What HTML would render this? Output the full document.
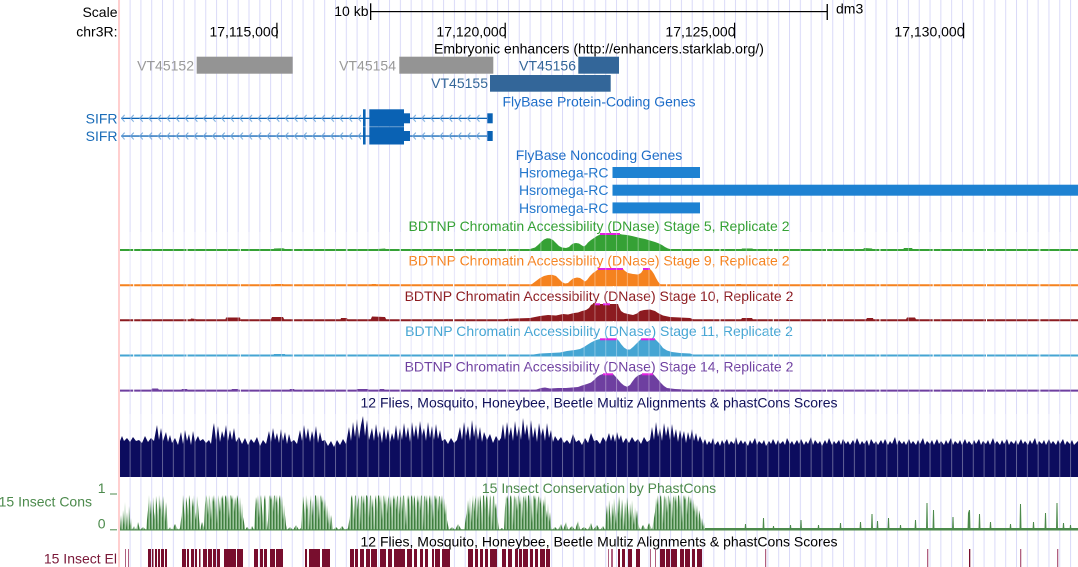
<!DOCTYPE html>
<html><head><meta charset="utf-8"><style>
html,body{margin:0;padding:0;background:#fff;overflow:hidden;width:1078px;height:567px}
svg{display:block}
text{font-family:"Liberation Sans",Arial,sans-serif;font-size:14px}
</style></head><body>
<svg width="1078" height="567" viewBox="0 0 1078 567" xmlns="http://www.w3.org/2000/svg">
<defs>
<pattern id="grid" patternUnits="userSpaceOnUse" x="129.6" y="0" width="10.81" height="567"><rect x="0" y="0" width="1" height="567" fill="#dadaf8"/></pattern>
<pattern id="gridov" patternUnits="userSpaceOnUse" x="129.6" y="0" width="10.81" height="567"><rect x="0" y="0" width="1" height="567" fill="#ffffff" fill-opacity="0.35"/></pattern>
<pattern id="chev" patternUnits="userSpaceOnUse" x="121" y="114.3" width="9.1" height="17.7"><path d="M3.6,0.6 L0.6,4 L3.6,7.4" fill="none" stroke="#6fa6dc" stroke-width="1"/></pattern>
<pattern id="gstr" patternUnits="userSpaceOnUse" x="120" y="0" width="3" height="10"><rect x="0" y="0" width="1.6" height="10" fill="#3f7f3f"/><rect x="1.6" y="0" width="1.4" height="10" fill="#9fc69f"/></pattern>
</defs>
<rect x="0" y="0" width="1078" height="567" fill="#fff"/>
<rect x="120" y="0" width="958" height="567" fill="url(#grid)"/>
<rect x="118" y="0" width="2" height="567" fill="#ffcfcf"/>

<!-- header -->
<text x="117.5" y="17" text-anchor="end">Scale</text>
<text x="117.5" y="36.5" text-anchor="end">chr3R:</text>
<text x="368.5" y="15.8" text-anchor="end">10 kb</text>
<rect x="370" y="3.3" width="1.3" height="16.7" fill="#000"/>
<rect x="371" y="11" width="456" height="1.2" fill="#000"/>
<rect x="826.6" y="4" width="1.3" height="16" fill="#000"/>
<text x="836" y="13.5">dm3</text>
<text x="278.5" y="36.5" text-anchor="end">17,115,000</text><rect x="276.3" y="22.7" width="1.2" height="15.6" fill="#000"/>
<text x="506.5" y="36.5" text-anchor="end">17,120,000</text><rect x="504.6" y="22.7" width="1.2" height="15.6" fill="#000"/>
<text x="735.5" y="36.5" text-anchor="end">17,125,000</text><rect x="734" y="22.7" width="1.2" height="15.6" fill="#000"/>
<text x="964.5" y="36.5" text-anchor="end">17,130,000</text><rect x="963" y="22.7" width="1.2" height="15.6" fill="#000"/>

<!-- enhancers -->
<text x="599" y="53.4" text-anchor="middle">Embryonic enhancers (http://enhancers.starklab.org/)</text>
<text x="194" y="70.5" text-anchor="end" fill="#999">VT45152</text>
<rect x="196.7" y="56.7" width="96" height="17" fill="#949494"/>
<text x="396" y="70.5" text-anchor="end" fill="#999">VT45154</text>
<rect x="399.3" y="56.7" width="94" height="17" fill="#949494"/>
<text x="576" y="70.5" text-anchor="end" fill="#336699">VT45156</text>
<rect x="578.3" y="56.7" width="40.7" height="17" fill="#336699"/>
<text x="488" y="88" text-anchor="end" fill="#336699">VT45155</text>
<rect x="490" y="75" width="120.7" height="16.7" fill="#336699"/>

<!-- protein coding genes -->
<text x="599" y="106.5" text-anchor="middle" fill="#1e6ec8">FlyBase Protein-Coding Genes</text>
<text x="117.5" y="123.5" text-anchor="end" fill="#1a6cb8">SIFR</text>
<text x="117.5" y="141.2" text-anchor="end" fill="#1a6cb8">SIFR</text>
<g fill="#0a62b4">
<rect x="121" y="117.7" width="366" height="1.3"/>
<rect x="363" y="109.3" width="2.6" height="17.4"/>
<rect x="369.3" y="109.3" width="34.7" height="17.4"/>
<rect x="404" y="113.3" width="6" height="10"/>
<rect x="487.3" y="113.3" width="5.4" height="10"/>
<rect x="121" y="135.4" width="366" height="1.3"/>
<rect x="363" y="127.1" width="2.6" height="17.4"/>
<rect x="369.3" y="127.1" width="34.7" height="17.4"/>
<rect x="404" y="131" width="6" height="10"/>
<rect x="487.3" y="131" width="5.4" height="10"/>
</g>
<rect x="121" y="114.3" width="240" height="26" fill="url(#chev)"/>
<rect x="411" y="114.3" width="74" height="26" fill="url(#chev)"/>

<!-- noncoding -->
<text x="599" y="160" text-anchor="middle" fill="#1e6ec8">FlyBase Noncoding Genes</text>
<text x="608.5" y="177.4" text-anchor="end" fill="#2277cc">Hsromega-RC</text>
<text x="608.5" y="195.1" text-anchor="end" fill="#2277cc">Hsromega-RC</text>
<text x="608.5" y="212.8" text-anchor="end" fill="#2277cc">Hsromega-RC</text>
<g fill="#1e82d2">
<rect x="612.5" y="167" width="87.5" height="11"/>
<rect x="612.5" y="184.7" width="465.5" height="11"/>
<rect x="612.5" y="202.4" width="87.5" height="11"/>
</g>

<!-- DNase tracks -->
<text x="599" y="231" text-anchor="middle" fill="#35a135">BDTNP Chromatin Accessibility (DNase) Stage 5, Replicate 2</text>
<g fill="#35a135">
<polygon points="525,251 525,249.5 530,249 535,247.5 538,245 541,242 544,239.5 547,238.3 550,238.5 553,240 556,243 559,246 562,247.5 566,248 569,247 571,245 573,243.5 576,243 579,243.5 582,245.5 584,246.5 586,245 588,242.5 591,240 594,238 597,236 600,234.5 600,234 620,234 622,234.5 627,235 632,236 636,237 640,238 645,239 650,240.5 655,242 659,243.5 662,245 665,247 668,248.5 672,249.5 680,249.5 690,250 690,251"/>
<polygon points="273,251 274,248.5 283,248.3 285,249 288,251"/>
<polygon points="375,251 377,249 385,248.5 388,251"/>
<polygon points="740,251 742,248.5 752,248.5 755,249.5 758,251"/>
<polygon points="862,251 864,248 872,248.5 874,251"/>
<polygon points="902,251 904,248 912,248 914,251"/>
</g>
<line x1="120" y1="250" x2="1078" y2="250" stroke="#35a135" stroke-width="2" stroke-dasharray="52.3 1" stroke-dashoffset="39.1"/>
<rect x="600" y="233" width="20" height="2" fill="#e020e0"/>

<text x="599" y="265.7" text-anchor="middle" fill="#f5821f">BDTNP Chromatin Accessibility (DNase) Stage 9, Replicate 2</text>
<g fill="#f5821f">
<polygon points="530,286 532,284 536,281 540,278 544,276 548,275 552,274.8 556,276 559,279 562,282 565,283.5 568,283 570,281 573,278.5 577,277.5 580,278 583,280 585,281.5 587,280 590,276 593,273 596,271 598,269.3 598,269 623,269 625,271 628,273 633,274 638,274.5 641,273 643,270 643,269 650,269 652,271 654,274 656,278 658,281.5 660,284 663,285 666,286"/>
<polygon points="273,286 275,284 283,284 285,286"/>
<polygon points="370,286 372,284 376,284 377,286"/>
<polygon points="736,286 737,284 741,284 742,286"/>
</g>
<line x1="120" y1="285.2" x2="1078" y2="285.2" stroke="#f5821f" stroke-width="2" stroke-dasharray="52.3 1" stroke-dashoffset="39.1"/>
<rect x="598" y="268" width="25" height="2" fill="#e020e0"/>
<rect x="643" y="268" width="7" height="2" fill="#e020e0"/>

<text x="599" y="300.8" text-anchor="middle" fill="#8c1b20">BDTNP Chromatin Accessibility (DNase) Stage 10, Replicate 2</text>
<g fill="#8c1b20">
<polygon points="500,321 505,319 515,318.5 530,318 540,316 548,315 556,315.5 563,314 568,314.5 574,313 578,312.5 582,311 586,310 589,308 591,305 593,304 618,304 619,307 621,311 624,313 628,314 633,315 637,313.5 640,311 644,310 650,309.5 655,311 658,313 663,315.5 670,317 680,317.5 690,318 695,320 697,321"/>
<polygon points="190,321 191,318.5 196,319 197,321"/>
<polygon points="225,321 226,317.5 240,317.5 241,321"/>
<polygon points="270,321 272,317 283,317 285,321"/>
<polygon points="340,321 341,318 347,318 348,321"/>
<polygon points="370,321 372,316.5 385,317 387,321"/>
<polygon points="740,321 742,318 752,318 754,321"/>
<polygon points="865,321 867,318 873,318 874,321"/>
<polygon points="905,321 907,317.5 915,317.5 917,321"/>
</g>
<line x1="120" y1="320.3" x2="1078" y2="320.3" stroke="#8c1b20" stroke-width="2" stroke-dasharray="52.3 1" stroke-dashoffset="39.1"/>
<rect x="595" y="303.3" width="5" height="2" fill="#e020e0"/>
<rect x="603" y="303.3" width="7" height="2" fill="#e020e0"/>

<text x="599" y="336.2" text-anchor="middle" fill="#45a5d3">BDTNP Chromatin Accessibility (DNase) Stage 11, Replicate 2</text>
<g fill="#45a5d3">
<polygon points="520,356.5 530,355 540,353.5 550,353 560,352.5 567,351 575,350 580,349 584,347 587,345 591,342.5 595,340.5 598,339.5 600,339 617,339 619,341 621,344 624,347.5 627,349.5 630,349.5 633,347 636,344 639,341 641,339 655,339 657,341 660,344 663,348 667,350.5 672,352 680,353 690,353.5 695,355 697,356.5"/>
<polygon points="272,356.5 274,354 285,354 286,356.5"/>
</g>
<line x1="120" y1="355.5" x2="1078" y2="355.5" stroke="#45a5d3" stroke-width="2" stroke-dasharray="52.3 1" stroke-dashoffset="39.1"/>
<rect x="600" y="338.3" width="17" height="2" fill="#e020e0"/>
<rect x="641" y="338.3" width="14" height="2" fill="#e020e0"/>

<text x="599" y="371.3" text-anchor="middle" fill="#6e3fa0">BDTNP Chromatin Accessibility (DNase) Stage 14, Replicate 2</text>
<g fill="#6e3fa0">
<polygon points="525,391.5 535,390 541,388 545,387.5 550,388.5 558,388 566,388 572,387.5 578,387 582,385.5 587,384 591,382.5 594,380 597,377 600,375 603,374 613,374 615,376 618,379.5 621,383 624,385.5 627,386.7 630,385 632,382 635,378 638,375.5 642,374 653,374 655,376 658,379.5 661,383 664,386 667,388 675,389 685,389.5 693,390 695,391.5"/>
<polygon points="150,391.5 152,388.5 158,388.5 160,391.5"/>
<polygon points="180,391.5 182,389 187,389 189,391.5"/>
<polygon points="230,391.5 232,389 238,389 240,391.5"/>
<polygon points="288,391.5 290,389 294,389 296,391.5"/>
<polygon points="355,391.5 357,389 368,389 370,391.5"/>
<polygon points="378,391.5 380,389 384,389 386,391.5"/>
</g>
<line x1="120" y1="390.6" x2="1078" y2="390.6" stroke="#6e3fa0" stroke-width="2" stroke-dasharray="52.3 1" stroke-dashoffset="39.1"/>
<rect x="603" y="373.3" width="10" height="2" fill="#e020e0"/>
<rect x="642" y="373.3" width="11" height="2" fill="#e020e0"/>

<!-- Multiz -->
<text x="599" y="407.3" text-anchor="middle" fill="#10105a">12 Flies, Mosquito, Honeybee, Beetle Multiz Alignments &amp; phastCons Scores</text>
<path fill="#0c0c5e" d="M120,477 L120,441 122,436 124,441 127,438 130,442 133,437 136,441 139,440 142,443 145,436 148,442 151,438 154,441 156,430 157,425 159,440 161,428 163,441 166,432 168,442 170,435 172,443 175,438 178,445 181,432 183,444 185,430 187,441 189,434 191,445 193,431 195,442 198,436 200,441 203,439 206,443 209,440 211,444 213,428 214,423 216,440 218,426 220,442 222,431 224,438 226,425 228,441 230,430 232,440 234,428 236,442 239,437 242,444 245,438 248,445 251,439 254,443 257,437 260,446 263,440 266,444 269,431 271,442 273,428 275,440 277,433 279,443 281,429 283,441 285,432 287,444 289,434 291,442 294,440 297,444 300,430 302,441 304,425 306,439 308,428 310,442 312,431 314,440 316,426 318,443 320,432 322,441 325,440 328,446 331,441 334,447 337,440 340,445 343,439 346,444 349,427 351,441 353,422 355,437 357,419 359,439 361,425 363,416 365,436 367,420 369,440 372,428 374,441 376,424 378,438 380,431 382,443 384,426 386,440 388,429 390,442 392,433 394,440 396,425 398,441 400,428 402,440 404,423 406,438 408,427 410,442 412,422 414,437 416,425 418,440 420,421 422,436 424,428 426,441 428,422 430,438 432,426 434,440 436,424 438,439 440,430 442,441 445,439 448,444 451,438 454,443 457,440 460,427 462,440 464,422 466,436 468,426 470,441 472,420 474,437 476,424 478,440 480,427 482,442 484,432 487,440 490,434 493,443 496,436 499,441 501,438 503,424 505,440 507,422 509,436 511,427 513,441 515,421 517,437 519,426 521,440 523,418 525,435 527,424 529,441 531,420 533,438 535,427 537,442 539,423 541,436 543,428 545,441 547,423 549,438 551,430 553,442 555,436 558,441 561,437 564,443 567,440 570,444 573,434 576,442 579,440 582,445 585,438 588,443 591,433 594,441 597,440 600,444 603,437 606,442 609,433 611,441 613,434 615,442 617,432 619,440 621,435 623,443 626,438 629,443 632,437 635,442 638,439 641,444 644,437 647,442 650,440 652,427 654,440 656,422 658,437 660,428 662,441 664,423 666,436 668,426 670,440 672,424 674,438 676,429 678,442 680,430 682,439 684,431 686,443 688,432 690,440 692,429 694,441 696,433 698,442 700,436 703,444 705,439 707,445 709,441 711,444 713,438 715,445 718,441 720,446 722,440 724,444 727,439 729,445 731,441 734,444 736,437 738,445 741,440 743,444 745,441 748,446 750,440 752,444 755,438 757,445 759,441 762,444 764,440 766,446 769,441 771,444 773,439 776,445 778,440 780,444 783,441 785,445 787,438 790,444 792,441 794,445 797,440 799,444 801,439 804,445 806,441 808,444 811,437 813,445 815,440 818,444 820,441 822,446 825,440 827,444 829,438 832,445 834,441 836,444 839,440 841,445 843,439 846,444 848,441 850,445 853,440 855,444 857,438 860,445 862,441 864,444 867,440 869,446 871,439 874,444 876,441 878,445 881,440 883,444 885,439 888,445 890,441 892,444 895,437 897,445 899,440 902,444 904,441 906,445 909,439 911,444 913,441 916,445 918,440 920,444 923,438 925,445 927,441 930,444 932,440 934,445 937,439 939,444 941,441 944,445 946,440 948,444 951,438 953,445 955,441 958,444 960,440 962,445 965,439 967,444 969,441 972,445 974,440 976,444 979,439 981,445 983,441 986,444 988,440 990,445 993,438 995,444 997,441 1000,445 1002,440 1004,444 1007,439 1009,445 1011,441 1014,444 1016,440 1018,445 1021,439 1023,444 1025,441 1028,445 1030,440 1032,444 1035,438 1037,445 1039,441 1042,444 1044,440 1046,445 1049,439 1051,444 1053,441 1056,445 1058,440 1060,444 1063,439 1065,445 1067,441 1070,444 1072,440 1074,445 1078,441 1078,477 Z"/>

<!-- phastCons -->
<path fill="url(#gstr)" d="M120,530 L121,515 122,530 123,510 124,525 125,502 126,528 127,512 128,530 129,506 130,526 131,518 132,530 134,526 136,530 138,522 140,530 143,527 146,530 148,510 149,495 150,515 151,500 152,528 153,497 154,512 155,520 156,496 157,505 158,525 159,495 160,510 161,499 162,518 163,496 164,508 165,522 166,502 167,515 168,530 170,527 172,530 175,524 178,530 180,528 182,512 183,495 184,508 185,522 186,497 187,503 188,516 189,495 190,500 191,528 192,498 193,507 194,495 195,512 196,520 197,496 198,505 199,518 200,530 202,522 204,528 205,505 206,495 207,498 208,515 209,495 210,500 211,520 212,496 213,502 214,495 215,510 216,497 217,524 218,495 219,500 220,512 221,496 222,499 223,495 224,515 225,497 226,495 227,503 228,495 229,519 230,496 231,495 232,500 233,495 234,512 235,497 236,505 237,495 238,499 239,513 240,497 241,520 242,503 243,517 244,522 245,530 247,527 250,530 252,526 254,530 255,512 256,497 257,504 258,495 259,518 260,498 261,495 262,508 263,524 264,500 265,495 266,506 267,530 268,520 269,497 270,495 271,500 272,495 273,512 274,496 275,495 276,503 277,495 278,516 279,499 280,495 281,507 282,496 283,520 284,505 285,515 286,525 287,530 290,527 293,530 296,525 299,530 301,528 302,512 303,496 304,505 305,522 306,495 307,510 308,498 309,530 310,502 311,495 312,516 313,500 314,525 315,496 316,495 317,508 318,495 319,520 320,497 321,495 322,503 323,496 324,512 325,499 326,518 327,505 328,524 329,510 330,527 331,515 332,522 333,530 336,527 339,530 342,526 345,530 348,528 350,516 351,498 352,495 353,506 354,520 355,496 356,495 357,510 358,500 359,495 360,525 361,497 362,495 363,504 364,495 365,515 366,496 367,495 368,500 369,518 370,496 371,495 372,508 373,498 374,528 375,500 376,495 377,512 378,496 379,495 380,503 381,495 382,520 383,497 384,495 385,505 386,495 387,514 388,499 389,495 390,508 391,496 392,522 393,495 394,500 395,495 396,510 397,497 398,495 399,515 400,498 401,495 402,512 403,496 404,495 405,504 406,526 407,495 408,500 409,495 410,518 411,497 412,495 413,507 414,495 415,499 416,522 417,495 418,503 419,495 420,511 421,496 422,495 423,528 424,497 425,495 426,502 427,495 428,516 429,499 430,495 431,506 432,495 433,520 434,497 435,495 436,500 437,495 438,512 439,496 440,497 441,505 442,495 443,509 444,498 445,515 446,503 447,520 448,525 449,530 452,527 455,530 458,524 461,529 464,530 467,510 468,500 469,515 470,497 471,523 472,505 473,495 474,512 475,500 476,495 477,520 478,496 479,508 480,495 481,502 482,525 483,496 484,495 485,510 486,498 487,495 488,506 489,518 490,495 491,500 492,528 493,497 494,495 495,509 496,503 497,516 498,522 499,530 502,528 504,530 505,508 506,496 507,499 508,495 509,518 510,497 511,495 512,503 513,526 514,495 515,500 516,496 517,511 518,495 519,497 520,505 521,495 522,520 523,498 524,495 525,502 526,495 527,513 528,496 529,495 530,507 531,495 532,523 533,497 534,495 535,500 536,495 537,515 538,498 539,495 540,504 541,497 542,520 543,499 544,507 545,495 546,510 547,518 548,503 549,522 550,512 551,527 552,530 555,527 558,530 561,524 563,530 566,522 568,530 572,526 575,530 578,521 580,530 584,527 588,530 591,523 593,530 597,525 600,530 603,526 605,530 606,515 607,505 608,522 609,500 610,512 611,526 612,503 613,517 614,498 615,509 616,524 617,501 618,514 619,496 620,507 621,520 622,499 623,511 624,527 625,502 626,515 627,497 628,508 629,522 630,503 631,518 632,500 633,512 634,525 635,507 636,519 637,510 638,523 639,527 640,530 643,525 646,530 649,523 652,530 655,512 656,498 657,505 658,495 659,516 660,497 661,495 662,508 663,524 664,495 665,500 666,496 667,513 668,495 669,497 670,505 671,495 672,520 673,498 674,495 675,502 676,495 677,511 678,496 679,495 680,507 681,495 682,523 683,497 684,495 685,500 686,495 687,515 688,498 689,495 690,504 691,497 692,510 693,499 694,512 695,503 696,518 697,505 698,522 699,510 700,515 701,524 702,518 703,527 704,522 705,530 Z"/>
<path fill="#4c8a4c" d="M705,530 L705,528 1078,528 1078,530 Z M744.5,530 L745,524 746,524 746.5,530 Z M762.5,530 L763,518 764,518 764.5,530 Z M772.5,530 L773,526 774,526 774.5,530 Z M789.5,530 L790,525 791,525 791.5,530 Z M800,530 L800.5,520 801.5,520 802,530 Z M817.5,530 L818,525 819,525 819.5,530 Z M839.5,530 L840,523 841,523 841.5,530 Z M859.5,530 L860,522 861,522 861.5,530 Z M871,530 L871.5,514 872.5,514 873,530 Z M876.5,530 L877,521 878,521 878.5,530 Z M887.5,530 L888,518 889,518 889.5,530 Z M899.5,530 L900,525 901,525 901.5,530 Z M914.5,530 L915,520 916,520 916.5,530 Z M926,530 L926.5,503 927.5,503 928,530 Z M932.5,530 L933,510 934,510 934.5,530 Z M952,530 L952.5,517 953.5,517 954,530 Z M967.5,530 L968,513 969,510 970,510 970.5,530 Z M978.5,530 L979,514 980,514 980.5,530 Z M989.5,530 L990,522 991,522 991.5,530 Z M1009.5,530 L1010,524 1011,524 1011.5,530 Z M1019.5,530 L1020,504 1021,504 1021.5,530 Z M1032.5,530 L1033,522 1034,522 1034.5,530 Z M1044.5,530 L1045,513 1046,513 1046.5,530 Z M1056,530 L1056.5,503 1057.5,503 1058,530 Z M1062.5,530 L1063,523 1064,523 1064.5,530 Z M1069.5,530 L1070,525 1071,525 1071.5,530 Z"/>
<rect x="120" y="529.3" width="958" height="1.2" fill="#4c8a4c"/>

<!-- grid overlays on wiggle charts -->
<rect x="120" y="232" width="958" height="160" fill="url(#gridov)"/>
<rect x="120" y="414" width="958" height="64" fill="url(#gridov)"/>

<text x="599" y="493" text-anchor="middle" fill="#4c8a4c">15 Insect Conservation by PhastCons</text>
<text x="92" y="506.5" text-anchor="end" fill="#4c8a4c">15 Insect Cons</text>
<text x="105.5" y="493" text-anchor="end" fill="#4c8a4c">1</text>
<rect x="110" y="493.5" width="7" height="1" fill="#4c8a4c"/>
<text x="105.5" y="528.3" text-anchor="end" fill="#4c8a4c">0</text>
<rect x="110" y="529.3" width="7" height="1" fill="#4c8a4c"/>

<!-- elements -->
<text x="599" y="546.5" text-anchor="middle" fill="#000">12 Flies, Mosquito, Honeybee, Beetle Multiz Alignments &amp; phastCons Scores</text>
<text x="117" y="563.3" text-anchor="end" fill="#7a1838">15 Insect El</text>
<g fill="#b06080">
<rect x="125" y="549" width="1" height="18"/><rect x="128" y="549" width="1" height="18"/>
<rect x="608" y="549" width="1" height="18"/><rect x="611" y="549" width="2" height="18"/>
<rect x="650" y="549" width="1" height="18"/><rect x="655" y="549" width="1" height="18"/>
<rect x="765" y="549" width="1.2" height="18"/><rect x="927" y="549" width="1.3" height="18"/>
<rect x="1020" y="549" width="1.3" height="18"/><rect x="1057" y="549" width="1.3" height="18"/>
</g>
<g fill="#780e2e">
<rect x="148" y="549" width="3" height="18"/><rect x="152" y="549" width="1.5" height="18"/><rect x="155" y="549" width="2" height="18"/>
<rect x="158" y="549" width="2" height="18"/><rect x="161" y="549" width="3" height="18"/><rect x="165" y="549" width="2" height="18"/>
<rect x="182" y="549" width="4" height="18"/><rect x="187" y="549" width="2" height="18"/><rect x="191" y="549" width="3" height="18"/>
<rect x="195" y="549" width="2" height="18"/><rect x="199" y="549" width="1.5" height="18"/>
<rect x="203" y="549" width="4" height="18"/><rect x="208" y="549" width="4" height="18"/><rect x="213" y="549" width="3" height="18"/><rect x="217" y="549" width="3" height="18"/>
<rect x="224" y="549" width="12" height="18"/><rect x="237" y="549" width="6" height="18"/>
<rect x="254" y="549" width="4" height="18"/><rect x="260" y="549" width="3" height="18"/><rect x="264" y="549" width="3" height="18"/>
<rect x="270" y="549" width="5" height="18"/><rect x="276" y="549" width="7" height="18"/>
<rect x="305" y="549" width="2" height="18"/><rect x="309" y="549" width="11" height="18"/><rect x="322" y="549" width="8" height="18"/>
<rect x="350" y="549" width="4" height="18"/><rect x="355" y="549" width="3" height="18"/><rect x="360" y="549" width="4" height="18"/>
<rect x="366" y="549" width="4" height="18"/><rect x="371" y="549" width="6" height="18"/>
<rect x="380" y="549" width="6" height="18"/><rect x="388" y="549" width="4" height="18"/><rect x="394" y="549" width="6" height="18"/>
<rect x="400" y="549" width="5" height="18"/><rect x="407" y="549" width="5" height="18"/><rect x="414" y="549" width="3" height="18"/>
<rect x="420" y="549" width="3" height="18"/><rect x="425" y="549" width="3" height="18"/><rect x="432" y="549" width="2" height="18"/>
<rect x="435" y="549" width="5" height="18"/><rect x="442" y="549" width="8" height="18"/>
<rect x="468" y="549" width="5" height="18"/><rect x="475" y="549" width="3" height="18"/><rect x="480" y="549" width="3" height="18"/>
<rect x="485" y="549" width="3" height="18"/><rect x="490" y="549" width="7" height="18"/>
<rect x="502" y="549" width="4" height="18"/><rect x="508" y="549" width="4" height="18"/><rect x="515" y="549" width="3" height="18"/>
<rect x="519" y="549" width="3" height="18"/><rect x="523" y="549" width="5" height="18"/><rect x="530" y="549" width="3" height="18"/>
<rect x="535" y="549" width="3" height="18"/><rect x="540" y="549" width="5" height="18"/><rect x="546" y="549" width="4" height="18"/>
<rect x="618" y="549" width="2" height="18"/><rect x="622" y="549" width="3" height="18"/><rect x="628" y="549" width="4" height="18"/><rect x="636" y="549" width="4" height="18"/>
<rect x="660" y="549" width="5" height="18"/><rect x="666" y="549" width="4" height="18"/><rect x="671" y="549" width="6" height="18"/>
<rect x="680" y="549" width="4" height="18"/><rect x="685" y="549" width="5" height="18"/>
<rect x="692" y="549" width="3" height="18"/><rect x="697" y="549" width="5" height="18"/>
<rect x="969" y="549" width="1.3" height="18"/>
</g>
</svg>
</body></html>
